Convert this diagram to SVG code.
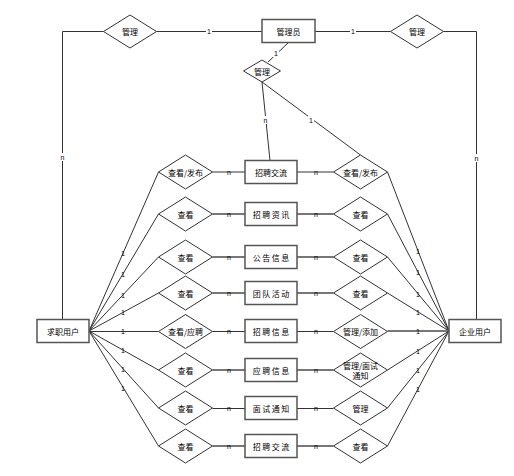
<svg xmlns="http://www.w3.org/2000/svg" width="514" height="476" viewBox="0 0 514 476">
<style>
.ent{fill:#fff;stroke:#555;stroke-width:1.5}
.rel{fill:#fff;stroke:#333;stroke-width:1}
.ln{fill:none;stroke:#333;stroke-width:1}
.lg{fill:none;stroke:#777;stroke-width:2}
.t{font-family:"Noto Sans CJK SC","Noto Sans",sans-serif;font-size:8px;fill:#000;text-anchor:middle;dominant-baseline:central}
.sp{letter-spacing:1.5px}
.lb{font-family:"Liberation Sans",Arial,sans-serif;font-size:7px;fill:#000;text-anchor:middle;dominant-baseline:central}
.bg{fill:#fff}
</style>
<rect width="514" height="476" fill="#fff"/>
<g id="connectors">
<polyline class="ln" points="62.5,319 62.5,31.5 103.5,31.5"/>
<line class="ln" x1="156.5" y1="31.5" x2="262" y2="31.5"/>
<line class="ln" x1="315" y1="31.5" x2="390.5" y2="31.5"/>
<polyline class="ln" points="443.5,31.5 476.5,31.5 476.5,319"/>
<line class="ln" x1="288" y1="43" x2="268" y2="62"/>
<line class="ln" x1="262" y1="82" x2="270" y2="160.5"/>
<line class="ln" x1="262" y1="82" x2="360.5" y2="155"/>
<!-- row horizontals -->
<g>
<line class="ln" x1="212.5" y1="172" x2="245" y2="172"/><line class="ln" x1="297" y1="172" x2="333.5" y2="172"/>
<line class="lg" x1="212.5" y1="214" x2="245" y2="214"/><line class="lg" x1="297" y1="214" x2="333.5" y2="214"/>
<line class="lg" x1="212.5" y1="257" x2="245" y2="257"/><line class="lg" x1="297" y1="257" x2="333.5" y2="257"/>
<line class="lg" x1="212.5" y1="293" x2="245" y2="293"/><line class="lg" x1="297" y1="293" x2="333.5" y2="293"/>
<line class="ln" x1="212.5" y1="331.5" x2="245" y2="331.5"/><line class="ln" x1="297" y1="331.5" x2="333.5" y2="331.5"/>
<line class="lg" x1="212.5" y1="370" x2="245" y2="370"/><line class="lg" x1="297" y1="370" x2="333.5" y2="370"/>
<line class="ln" x1="212.5" y1="408.5" x2="245" y2="408.5"/><line class="ln" x1="297" y1="408.5" x2="333.5" y2="408.5"/>
<line class="lg" x1="212.5" y1="446" x2="245" y2="446"/><line class="lg" x1="297" y1="446" x2="333.5" y2="446"/>
</g>
<!-- left entity fan -->
<g>
<line class="ln" x1="89" y1="331" x2="158.5" y2="172"/>
<line class="ln" x1="89" y1="331" x2="158.5" y2="214"/>
<line class="ln" x1="89" y1="331" x2="158.5" y2="257"/>
<line class="ln" x1="89" y1="331" x2="158.5" y2="293"/>
<line class="ln" x1="89" y1="331.5" x2="158.5" y2="331.5"/>
<line class="ln" x1="89" y1="331" x2="158.5" y2="370"/>
<line class="ln" x1="89" y1="331" x2="158.5" y2="408"/>
<line class="ln" x1="89" y1="331" x2="158.5" y2="446"/>
</g>
<!-- right entity fan -->
<g>
<line class="ln" x1="449" y1="331" x2="387.5" y2="172"/>
<line class="ln" x1="449" y1="331" x2="387.5" y2="214"/>
<line class="ln" x1="449" y1="331" x2="387.5" y2="257"/>
<line class="ln" x1="449" y1="331" x2="387.5" y2="293"/>
<line class="lg" x1="449" y1="331" x2="387.5" y2="331"/>
<line class="ln" x1="449" y1="331" x2="387.5" y2="370"/>
<line class="ln" x1="449" y1="331" x2="387.5" y2="408"/>
<line class="ln" x1="449" y1="331" x2="387.5" y2="446"/>
</g>
<!-- cardinality labels -->
<g>
<rect class="bg" x="206" y="28" width="6" height="8"/><text class="lb" x="209" y="31.5">1</text>
<rect class="bg" x="350" y="28" width="6" height="8"/><text class="lb" x="353" y="31.5">1</text>
<rect class="bg" x="59" y="153" width="7" height="8"/><text class="lb" x="62.5" y="157">n</text>
<rect class="bg" x="473" y="154" width="7" height="8"/><text class="lb" x="476.5" y="158">n</text>
<rect class="bg" x="273" y="49" width="6" height="8"/><text class="lb" x="276" y="53">1</text>
<rect class="bg" x="262" y="116" width="7" height="8"/><text class="lb" x="265.5" y="120">n</text>
<rect class="bg" x="308" y="116" width="6" height="8"/><text class="lb" x="311" y="120">1</text>
</g>
<g>
<text class="lb" x="229" y="172">n</text><text class="lb" x="316" y="172">n</text>
<text class="lb" x="229" y="214">n</text><text class="lb" x="316" y="214">n</text>
<text class="lb" x="229" y="257">n</text><text class="lb" x="316" y="257">n</text>
<text class="lb" x="229" y="293">n</text><text class="lb" x="316" y="293">n</text>
<text class="lb" x="229" y="331.5">n</text><text class="lb" x="316" y="331.5">n</text>
<text class="lb" x="229" y="370">n</text><text class="lb" x="316" y="370">n</text>
<text class="lb" x="229" y="408.5">n</text><text class="lb" x="316" y="408.5">n</text>
<text class="lb" x="229" y="446">n</text><text class="lb" x="316" y="446">n</text>
</g>
<g>
<text class="lb" x="123" y="253">1</text><text class="lb" x="123" y="274">1</text>
<text class="lb" x="123" y="295">1</text><text class="lb" x="123" y="312.5">1</text>
<text class="lb" x="123" y="331.5">1</text><text class="lb" x="123" y="350.5">1</text>
<text class="lb" x="123" y="369">1</text><text class="lb" x="123" y="388">1</text>
<text class="lb" x="418" y="251">1</text><text class="lb" x="418" y="272">1</text>
<text class="lb" x="418" y="294">1</text><text class="lb" x="418" y="312">1</text>
<text class="lb" x="418" y="331">1</text><text class="lb" x="418" y="351">1</text>
<text class="lb" x="418" y="370">1</text><text class="lb" x="418" y="389">1</text>
</g>
</g>
<!-- entities -->
<g id="admin"><rect class="ent" x="262" y="19.5" width="53" height="23"/><text class="t" x="288.5" y="31">管理员</text></g>
<g id="jobseeker"><rect class="ent" x="37" y="319.5" width="52" height="23"/><text class="t" x="63" y="331">求职用户</text></g>
<g id="company"><rect class="ent" x="449" y="319.5" width="52" height="23"/><text class="t" x="475" y="331">企业用户</text></g>
<!-- top relationships -->
<g id="rel-top-left"><polygon class="rel" points="103.5,31.5 130,15 156.5,31.5 130,48"/><text class="t" x="130" y="31.5">管理</text></g>
<g id="rel-top-right"><polygon class="rel" points="390.5,31.5 417,15 443.5,31.5 417,48"/><text class="t" x="417" y="31.5">管理</text></g>
<g id="rel-admin"><polygon class="rel" points="243.5,71 262,60 280.5,71 262,82"/><text class="t" x="262" y="71">管理</text></g>
<!-- entity boxes in middle -->
<g id="e1"><rect class="ent" x="245" y="160.5" width="52" height="23"/><text class="t" x="271" y="172">招聘交流</text></g>
<g id="e2"><rect class="ent" x="245" y="202.5" width="52" height="23"/><text class="t sp" x="271.75" y="214">招聘资讯</text></g>
<g id="e3"><rect class="ent" x="245" y="245.5" width="52" height="23"/><text class="t sp" x="271.75" y="257">公告信息</text></g>
<g id="e4"><rect class="ent" x="245" y="281.5" width="52" height="23"/><text class="t sp" x="271.75" y="293">团队活动</text></g>
<g id="e5"><rect class="ent" x="245" y="319.5" width="52" height="23"/><text class="t sp" x="271.75" y="331">招聘信息</text></g>
<g id="e6"><rect class="ent" x="245" y="358.5" width="52" height="23"/><text class="t sp" x="271.75" y="370">应聘信息</text></g>
<g id="e7"><rect class="ent" x="245" y="396.5" width="52" height="23"/><text class="t sp" x="271.75" y="408">面试通知</text></g>
<g id="e8"><rect class="ent" x="245" y="434.5" width="52" height="23"/><text class="t sp" x="271.75" y="446">招聘交流</text></g>
<!-- left diamonds -->
<g id="l1"><polygon class="rel" points="158.5,172 185.5,155 212.5,172 185.5,189"/><text class="t" x="185.5" y="172">查看/发布</text></g>
<g id="l2"><polygon class="rel" points="158.5,214 185.5,197 212.5,214 185.5,231"/><text class="t" x="185.5" y="214">查看</text></g>
<g id="l3"><polygon class="rel" points="158.5,257 185.5,240 212.5,257 185.5,274"/><text class="t" x="185.5" y="257">查看</text></g>
<g id="l4"><polygon class="rel" points="158.5,293 185.5,276 212.5,293 185.5,310"/><text class="t" x="185.5" y="293">查看</text></g>
<g id="l5"><polygon class="rel" points="158.5,331.5 185.5,314.5 212.5,331.5 185.5,348.5"/><text class="t" x="185.5" y="331.5">查看/应聘</text></g>
<g id="l6"><polygon class="rel" points="158.5,370 185.5,353 212.5,370 185.5,387"/><text class="t" x="185.5" y="370">查看</text></g>
<g id="l7"><polygon class="rel" points="158.5,408 185.5,391 212.5,408 185.5,425"/><text class="t" x="185.5" y="408">查看</text></g>
<g id="l8"><polygon class="rel" points="158.5,446 185.5,429 212.5,446 185.5,463"/><text class="t" x="185.5" y="446">查看</text></g>
<!-- right diamonds -->
<g id="r1"><polygon class="rel" points="333.5,172 360.5,155 387.5,172 360.5,189"/><text class="t" x="360.5" y="172">查看/发布</text></g>
<g id="r2"><polygon class="rel" points="333.5,214 360.5,197 387.5,214 360.5,231"/><text class="t" x="360.5" y="214">查看</text></g>
<g id="r3"><polygon class="rel" points="333.5,257 360.5,240 387.5,257 360.5,274"/><text class="t" x="360.5" y="257">查看</text></g>
<g id="r4"><polygon class="rel" points="333.5,293 360.5,276 387.5,293 360.5,310"/><text class="t" x="360.5" y="293">查看</text></g>
<g id="r5"><polygon class="rel" points="333.5,331.5 360.5,314.5 387.5,331.5 360.5,348.5"/><text class="t" x="360.5" y="331.5">管理/添加</text></g>
<g id="r6"><polygon class="rel" points="333.5,370 360.5,353 387.5,370 360.5,387"/><text class="t" x="360.5" y="365">管理/面试</text><text class="t" x="360.5" y="375">通知</text></g>
<g id="r7"><polygon class="rel" points="333.5,408 360.5,391 387.5,408 360.5,425"/><text class="t" x="360.5" y="408">管理</text></g>
<g id="r8"><polygon class="rel" points="333.5,446 360.5,429 387.5,446 360.5,463"/><text class="t" x="360.5" y="446">查看</text></g>
</svg>
